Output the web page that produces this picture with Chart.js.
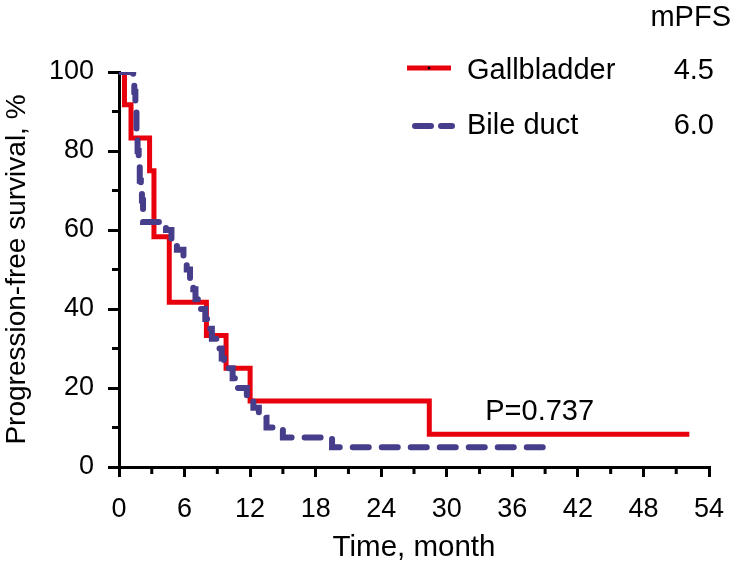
<!DOCTYPE html>
<html lang="en">
<head>
    <meta charset="UTF-8">
    <title>Progression-free survival by tumour site</title>
    <script src="https://cdn.jsdelivr.net/npm/chart.js"></script>
    <style>
        html, body { margin: 0; padding: 0; background: #fff; }
        canvas { display: block; }
    </style>
</head>
<body>
    <canvas id="pfsChart" width="736" height="568"></canvas>

    <script>
        // Kaplan-Meier steps (month, survival %)
        const gallTime = [0, 0.5, 1.1, 2.8, 3.2, 4.6, 8.0, 9.8, 12.0, 28.4, 52.2];
        const gallSurv = [100, 91.7, 83.3, 75, 58.3, 41.7, 33.3, 25, 16.7, 8.3, 8.3];

        const bileTime = [0, 1.3, 1.4, 1.5, 1.6, 1.7, 1.8, 1.9, 2.0, 2.1, 2.2, 4.3, 4.8, 5.3, 5.9, 6.2, 6.5, 6.8, 7.0, 7.3,
                          7.9, 8.3, 8.5, 9.1, 9.4, 9.6, 10.4, 10.8, 11.7, 12.3, 12.8, 13.5, 15.0, 19.5, 39];
        const bileSurv = [100, 97.5, 95, 90, 85, 80, 77.5, 72.5, 70, 67.5, 62, 60, 57.5, 55, 52.5, 50, 47.5, 45, 42.5, 40,
                          37.5, 35, 32.5, 30, 27.5, 25, 22.5, 20, 17.5, 15, 12.5, 10, 7.5, 5, 5];

        const groups = ['Gallbladder', 'Bile duct'];
        const medianPfs = ['4.5', '6.0'];
        const pValue = 'P=0.737';

        const RED = '#e8000d';
        const BLUE = '#463e8b';
        const FONT = "'Liberation Sans', Arial, Helvetica, sans-serif";

        const toPoints = (t, s) => t.map((x, i) => ({ x: x, y: s[i] }));

        // minor ticks + legend + p-value text
        const extras = {
            id: 'extras',
            afterDraw(chart) {
                const ctx = chart.ctx;
                const xs = chart.scales.x, ys = chart.scales.y;
                ctx.save();
                ctx.strokeStyle = '#000';
                ctx.lineWidth = 3;
                ctx.beginPath();
                for (let v = 3; v < 54; v += 6) {
                    const px = xs.getPixelForValue(v);
                    ctx.moveTo(px, ys.bottom);
                    ctx.lineTo(px, ys.bottom + 7);
                }
                for (let v = 10; v < 100; v += 20) {
                    const py = ys.getPixelForValue(v);
                    ctx.moveTo(xs.left, py);
                    ctx.lineTo(xs.left - 7, py);
                }
                ctx.stroke();

                ctx.fillStyle = '#000';
                ctx.font = '29px ' + FONT;
                ctx.textBaseline = 'middle';
                ctx.textAlign = 'right';
                ctx.fillText('mPFS', 731, 18);

                const rows = [71, 126];
                // gallbladder sample
                ctx.lineCap = 'butt';
                ctx.strokeStyle = RED;
                ctx.lineWidth = 5;
                ctx.beginPath();
                ctx.moveTo(407, rows[0] - 3);
                ctx.lineTo(451, rows[0] - 3);
                ctx.stroke();
                ctx.fillStyle = '#000';
                ctx.beginPath();
                ctx.arc(429, rows[0] - 3, 1.5, 0, Math.PI * 2);
                ctx.fill();
                // bile duct sample
                ctx.strokeStyle = BLUE;
                ctx.lineWidth = 6;
                ctx.lineCap = 'round';
                ctx.beginPath();
                ctx.moveTo(415, rows[1]);
                ctx.lineTo(431, rows[1]);
                ctx.moveTo(441, rows[1]);
                ctx.lineTo(452, rows[1]);
                ctx.stroke();

                ctx.fillStyle = '#000';
                groups.forEach((g, i) => {
                    ctx.textAlign = 'left';
                    ctx.fillText(g, 467, rows[i]);
                    ctx.textAlign = 'right';
                    ctx.fillText(medianPfs[i], 714, rows[i]);
                });

                ctx.textAlign = 'center';
                ctx.fillText(pValue, xs.getPixelForValue(38.5), ys.getPixelForValue(14));
                ctx.restore();
            }
        };

        const ctx = document.getElementById('pfsChart').getContext('2d');
        new Chart(ctx, {
            type: 'line',
            data: {
                datasets: [{
                    label: groups[1],
                    data: toPoints(bileTime, bileSurv),
                    borderColor: BLUE,
                    borderWidth: 6,
                    borderDash: [16, 13],
                    borderCapStyle: 'round',
                    stepped: 'before',
                    pointRadius: 0,
                    fill: false
                }, {
                    label: groups[0],
                    data: toPoints(gallTime, gallSurv),
                    borderColor: RED,
                    borderWidth: 5,
                    borderJoinStyle: 'miter',
                    stepped: 'before',
                    pointRadius: 0,
                    fill: false
                }]
            },
            options: {
                responsive: false,
                animation: false,
                layout: { padding: { top: 72, right: 27, left: 0, bottom: 0 } },
                plugins: {
                    legend: { display: false },
                    tooltip: { enabled: false }
                },
                scales: {
                    x: {
                        type: 'linear',
                        min: 0,
                        max: 54,
                        afterFit(scale) {
                            scale.height = 101;
                            scale.paddingLeft = 0;
                            scale.paddingRight = 0;
                        },
                        ticks: {
                            stepSize: 6,
                            autoSkip: false,
                            color: '#000',
                            padding: 16,
                            maxRotation: 0,
                            font: { family: FONT, size: 27 }
                        },
                        grid: {
                            drawOnChartArea: false,
                            color: '#000',
                            lineWidth: 3,
                            tickLength: 10
                        },
                        border: { color: '#000', width: 3 },
                        title: {
                            display: true,
                            text: 'Time, month',
                            color: '#000',
                            padding: { top: 0, bottom: 2 },
                            font: { family: FONT, size: 29.5 }
                        }
                    },
                    y: {
                        min: 0,
                        max: 100,
                        afterFit(scale) {
                            scale.width = 119;
                            scale.paddingTop = 0;
                            scale.paddingBottom = 0;
                        },
                        ticks: {
                            stepSize: 20,
                            color: '#000',
                            padding: 14,
                            font: { family: FONT, size: 27 }
                        },
                        grid: {
                            drawOnChartArea: false,
                            color: '#000',
                            lineWidth: 3,
                            tickLength: 11
                        },
                        border: { color: '#000', width: 3 },
                        title: {
                            display: true,
                            text: 'Progression-free survival, %',
                            color: '#000',
                            padding: 0,
                            font: { family: FONT, size: 28 }
                        }
                    }
                }
            },
            plugins: [extras]
        });
    </script>
</body>
</html>
